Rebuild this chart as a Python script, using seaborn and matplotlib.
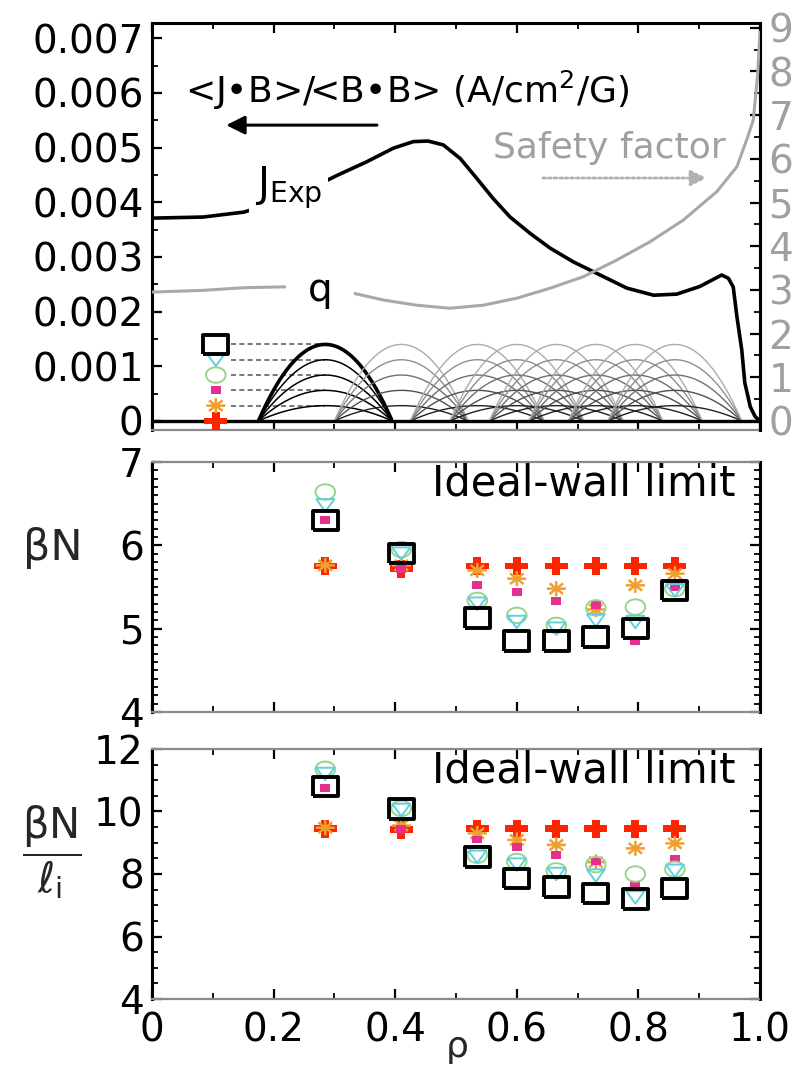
import numpy as np
import matplotlib
matplotlib.use("Agg")
import matplotlib.pyplot as plt
import seaborn as sns
from matplotlib.ticker import MultipleLocator, FuncFormatter

# ---------------------------------------------------------------- data
# radial locations of the localized current perturbations
rho_loc = [0.285, 0.41, 0.535, 0.60, 0.665, 0.73, 0.795, 0.86]

# perturbation amplitudes (A/cm2/G); level 0 is the unperturbed case
amp_levels = [0.0, 0.00028, 0.00056, 0.00084, 0.00112, 0.0014]
bump_halfwidth = 0.11
legend_rho = 0.105
connector_start = 0.13

# equilibrium <J.B>/<B.B> profile
rho_j = [0.0, 0.084, 0.151, 0.22, 0.26, 0.306, 0.353, 0.397, 0.430, 0.454,
         0.479, 0.507, 0.534, 0.561, 0.589, 0.622, 0.655, 0.693, 0.737,
         0.781, 0.825, 0.863, 0.901, 0.937, 0.948, 0.956, 0.962, 0.970,
         0.975, 0.984, 0.992, 1.0]
j_exp = [0.00371, 0.00373, 0.00382, 0.00405, 0.00425, 0.00450, 0.00474,
         0.00499, 0.00511, 0.00512, 0.00505, 0.00480, 0.00444, 0.00407,
         0.00373, 0.00343, 0.00316, 0.00291, 0.00267, 0.00243, 0.00230,
         0.00232, 0.00246, 0.00267, 0.00261, 0.00245, 0.00191, 0.00130,
         0.00070, 0.00026, 0.00008, 0.0]

# safety factor profile
rho_q = [0.0, 0.084, 0.151, 0.218, 0.27, 0.320, 0.380, 0.435, 0.490, 0.545,
         0.600, 0.655, 0.709, 0.764, 0.819, 0.874, 0.929, 0.962, 0.978,
         0.989, 0.996, 1.0]
q_prof = [2.95, 2.99, 3.05, 3.07, 3.02, 2.96, 2.77, 2.65, 2.58, 2.65, 2.81,
          3.04, 3.30, 3.68, 4.10, 4.60, 5.25, 5.82, 6.43, 6.89, 7.90, 8.90]

# ideal-wall beta_N limit for each perturbation amplitude
bn_plus = [5.75, 5.72, 5.75, 5.75, 5.75, 5.75, 5.75, 5.75]
bn_star = [5.76, 5.76, 5.70, 5.60, 5.48, 5.23, 5.52, 5.66]
bn_dot = [6.30, 5.72, 5.52, 5.44, 5.33, 5.28, 4.85, 5.50]
bn_ring = [6.64, 5.95, 5.34, 5.16, 5.04, 5.25, 5.26, 5.48]
bn_tri = [6.48, 5.90, 5.30, 5.08, 5.00, 5.10, 5.08, 5.46]
bn_sq = [6.30, 5.90, 5.13, 4.85, 4.85, 4.90, 5.00, 5.46]

# ideal-wall beta_N / l_i limit
bl_plus = [9.45, 9.42, 9.45, 9.45, 9.45, 9.45, 9.45, 9.45]
bl_star = [9.48, 9.55, 9.30, 9.09, 8.93, 8.38, 8.82, 8.98]
bl_dot = [10.75, 9.45, 9.10, 8.87, 8.60, 8.42, 7.64, 8.50]
bl_ring = [11.35, 10.10, 8.60, 8.40, 8.10, 8.30, 8.00, 8.15]
bl_tri = [11.20, 10.05, 8.55, 8.30, 8.00, 7.95, 7.25, 8.10]
bl_sq = [10.80, 10.08, 8.55, 7.85, 7.58, 7.37, 7.20, 7.53]

x_ticklabels = ["0", "0.2", "0.4", "0.6", "0.8", "1.0"]

# ---------------------------------------------------------------- markers
ASP = 1.27


def rect_marker(a=ASP):
    return [(-a, -1), (a, -1), (a, 1), (-a, 1), (-a, -1)]


def ellipse_marker(a=ASP):
    t = np.linspace(0, 2 * np.pi, 41)
    return list(zip(a * np.cos(t), np.sin(t)))


def tri_down_marker(a=1.45):
    return [(-a, 1), (a, 1), (0, -1), (-a, 1)]


def plus_marker(a=ASP, t=0.36):
    pts = [(-t, -1), (t, -1), (t, -t), (1, -t), (1, t), (t, t), (t, 1),
           (-t, 1), (-t, t), (-1, t), (-1, -t), (-t, -t), (-t, -1)]
    return [(a * x, y) for x, y in pts]


def asterisk_marker(a=ASP):
    verts, codes = [], []
    for ang in np.deg2rad([0, 45, 90, 135]):
        c, s = np.cos(ang), np.sin(ang)
        verts += [(-a * c, -s), (a * c, s)]
        codes += [matplotlib.path.Path.MOVETO, matplotlib.path.Path.LINETO]
    return matplotlib.path.Path(verts, codes)


# (marker, size, facecolor, edgecolor, linewidth) for amplitude levels 0..5
styles = [
    (plus_marker(), 270, "#ff2400", "none", 0.0),
    (asterisk_marker(), 190, "none", "#f0a030", 1.8),
    (rect_marker(), 50, "#e6308f", "none", 0.0),
    (ellipse_marker(), 200, "none", "#98d48c", 1.4),
    (tri_down_marker(), 170, "none", "#5fd0e0", 1.4),
    (rect_marker(), 320, "none", "black", 2.8),
]

# ---------------------------------------------------------------- figure
sns.set_theme(style="white")
plt.rcParams["font.family"] = ["DejaVu Sans"]
plt.rcParams["mathtext.fontset"] = "dejavusans"
plt.rcParams["mathtext.default"] = "regular"

fig = plt.figure(figsize=(8, 10.68), dpi=100)
fig.patch.set_facecolor("white")
L, W = 0.19, 0.76
ax1 = fig.add_axes([L, 0.5974, W, 0.3811])
ax2 = fig.add_axes([L, 0.3333, W, 0.2341])
ax3 = fig.add_axes([L, 0.0646, W, 0.2341])
axq = ax1.twinx()

TICK_FS = 28
GRAY_TXT = "#a0a0a0"

# ---------------- top panel: profiles and basis functions
grid = np.linspace(0, 1, 1001)
shade = ["#202020", "#505050", "#707070", "#8e8e8e", "#ababab"]
for i, c in enumerate(rho_loc):
    sel = np.abs(grid - c) <= bump_halfwidth
    g = grid[sel]
    for k, a in enumerate(amp_levels[1:], start=1):
        yb = a * (1 - ((g - c) / bump_halfwidth) ** 2)
        if i == 0:
            col, lw = "black", (2.6 if k == 5 else 1.1)
        else:
            col, lw = shade[k - 1], 1.0
        sns.lineplot(x=g, y=yb, ax=ax1, color=col, linewidth=lw, zorder=3)

# dashed connectors from the marker key to the first set of bumps
for a in amp_levels[1:]:
    sns.lineplot(x=[connector_start, rho_loc[0]], y=[a, a], ax=ax1,
                 color="#606060", linewidth=1.2, linestyle=(0, (3, 2)), zorder=2)

ax1.axhline(0, color="black", linewidth=2.4, zorder=4)

sns.lineplot(x=rho_j, y=j_exp, ax=ax1, color="black", linewidth=2.6, zorder=5)
sns.lineplot(x=rho_q, y=q_prof, ax=axq, color="#a8a8a8", linewidth=2.2, zorder=5)

# marker key
for lvl, (mk, s, fc, ec, lw) in enumerate(styles):
    sns.scatterplot(x=[legend_rho], y=[amp_levels[lvl]], ax=ax1, marker=mk, s=s,
                    facecolor=fc, edgecolor=ec, linewidth=lw, zorder=6,
                    legend=False, clip_on=False)

ax1.text(0.055, 0.835, "<J•B>/<B•B> (A/cm$^2$/G)", transform=ax1.transAxes,
         fontsize=26, ha="left", va="center", color="black")
ax1.annotate("", xy=(0.122, 0.749), xytext=(0.37, 0.749),
             xycoords="axes fraction", textcoords="axes fraction",
             arrowprops=dict(arrowstyle="-|>", color="black", lw=2.2,
                             mutation_scale=28, shrinkA=0, shrinkB=0))
ax1.text(0.752, 0.693, "Safety factor", transform=ax1.transAxes,
         fontsize=26, ha="center", va="center", color=GRAY_TXT)
ax1.annotate("", xy=(0.912, 0.619), xytext=(0.643, 0.619),
             xycoords="axes fraction", textcoords="axes fraction",
             arrowprops=dict(arrowstyle="-|>", color="#b0b0b0", lw=2.0,
                             linestyle=(0, (1, 1)), mutation_scale=24,
                             shrinkA=0, shrinkB=0))
ax1.text(0.225, 0.595, r"$\mathrm{J}_{\mathrm{Exp}}$", transform=ax1.transAxes,
         fontsize=29, ha="center", va="center", color="black", zorder=7,
         bbox=dict(boxstyle="square,pad=0.15", fc="white", ec="none"))
axq.text(0.276, 0.345, "q", transform=axq.transAxes, fontsize=28,
         ha="center", va="center", color="black", zorder=7,
         bbox=dict(boxstyle="square,pad=0.55", fc="white", ec="none"))

ax1.set_ylim(-0.000165, 0.00728)
axq.set_ylim(-0.206, 9.11)
ax1.yaxis.set_major_locator(MultipleLocator(0.001))
ax1.yaxis.set_minor_locator(MultipleLocator(0.0005))
ax1.yaxis.set_major_formatter(
    FuncFormatter(lambda v, p: "0" if abs(v) < 1e-12 else f"{v:.3f}"))
axq.yaxis.set_major_locator(MultipleLocator(1))
axq.yaxis.set_minor_locator(MultipleLocator(0.5))

# ---------------- lower panels: stability limits
for ax, series in ((ax2, [bn_plus, bn_star, bn_dot, bn_ring, bn_tri, bn_sq]),
                   (ax3, [bl_plus, bl_star, bl_dot, bl_ring, bl_tri, bl_sq])):
    for lvl, vals in enumerate(series):
        mk, s, fc, ec, lw = styles[lvl]
        sns.scatterplot(x=rho_loc, y=vals, ax=ax, marker=mk, s=s,
                        facecolor=fc, edgecolor=ec, linewidth=lw,
                        zorder=3 + lvl, legend=False)
    ax.text(0.96, 0.915, "Ideal-wall limit", transform=ax.transAxes,
            fontsize=30, ha="right", va="center", color="black")

ax2.set_ylim(4, 7)
ax2.yaxis.set_major_locator(MultipleLocator(1))
ax2.yaxis.set_minor_locator(MultipleLocator(0.1))
ax3.set_ylim(4, 12)
ax3.yaxis.set_major_locator(MultipleLocator(2))
ax3.yaxis.set_minor_locator(MultipleLocator(0.5))

# ---------------- shared axis styling
for ax in (ax1, ax2, ax3):
    ax.set_xlim(0, 1)
    ax.xaxis.set_major_locator(MultipleLocator(0.2))
    ax.xaxis.set_minor_locator(MultipleLocator(0.1))
    ax.set_xlabel("")
    ax.set_ylabel("")
    ax.tick_params(axis="both", which="both", direction="in", top=True,
                   bottom=True, left=True, right=(ax is not ax1),
                   labelbottom=False, labelsize=TICK_FS, colors="black",
                   pad=6)
    ax.tick_params(which="major", length=7, width=1.6)
    ax.tick_params(which="minor", length=4, width=1.3)
    for side in ("left", "right"):
        ax.spines[side].set_color("black")
        ax.spines[side].set_linewidth(2.2)
    for side in ("top", "bottom"):
        ax.spines[side].set_color("#8a8a8a")
        ax.spines[side].set_linewidth(1.6)
        ax.spines[side].set_linestyle((0, (1, 1)))

ax1.spines["top"].set_color("black")
ax1.spines["top"].set_linewidth(2.2)
ax1.spines["top"].set_linestyle("-")

axq.tick_params(axis="y", which="both", direction="in", right=True,
                labelsize=TICK_FS, labelcolor=GRAY_TXT, color="black", pad=6)
axq.tick_params(which="major", length=7, width=1.6)
axq.tick_params(which="minor", length=4, width=1.3)
for side in ("left", "top", "bottom"):
    axq.spines[side].set_visible(False)
axq.spines["right"].set_color("black")
axq.spines["right"].set_linewidth(2.2)
axq.set_ylabel("")

ax3.tick_params(axis="x", labelbottom=True, pad=9)
ax3.set_xticks([0, 0.2, 0.4, 0.6, 0.8, 1.0])
ax3.set_xticklabels(x_ticklabels)

ax3.set_xlabel("ρ", fontsize=26, va="center")
ax3.xaxis.set_label_coords(0.502, -0.19)

ax2.set_ylabel("βN", fontsize=31, rotation=0, ha="center", va="center")
ax2.yaxis.set_label_coords(-0.164, 0.656)
ax3.set_ylabel(r"$\dfrac{\beta N}{\ell_i}$", fontsize=30, rotation=0,
               ha="center", va="center")
ax3.yaxis.set_label_coords(-0.164, 0.588)

fig.savefig("out.png", dpi=100, facecolor="white")
